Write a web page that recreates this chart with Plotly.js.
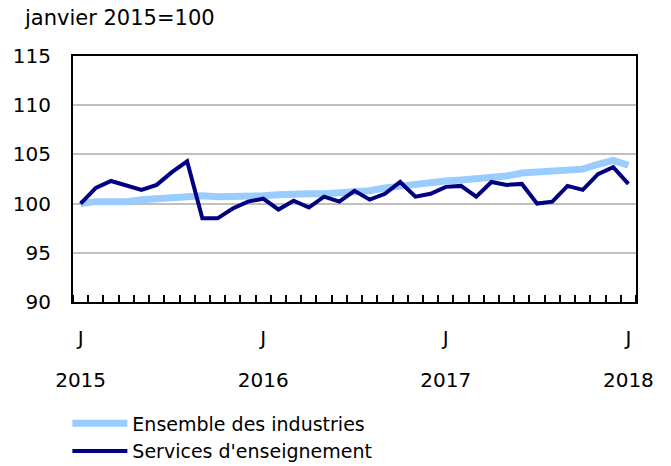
<!DOCTYPE html>
<html>
<head>
<meta charset="utf-8">
<script src="https://cdn.plot.ly/plotly-3.0.1.min.js"></script>
<style>html,body{margin:0;padding:0;background:#fff;}#chart{width:671px;height:466px;}</style>
</head>
<body>
<div id="chart"></div>
<script>
// Months Jan 2015 .. Jan 2018 (index 0..36)
const months = Array.from({length: 37}, (_, i) => i);
const tickPositions = [0, 12, 24, 36];
const monthLabels = ["J", "J", "J", "J"];
const yearLabels = ["2015", "2016", "2017", "2018"];
const seriesNames = ["Ensemble des industries", "Services d'enseignement"];

const ensembleIndustries = [
  100.0, 100.2, 100.2, 100.2, 100.4, 100.5, 100.6, 100.7, 100.8, 100.7, 100.7, 100.8,
  100.8, 100.9, 101.0, 101.0, 101.0, 101.1, 101.2, 101.3, 101.6, 101.8, 101.9, 102.1,
  102.3, 102.4, 102.5, 102.6, 102.8, 103.1, 103.2, 103.3, 103.4, 103.5, 104.0, 104.4,
  103.9
];
const servicesEnseignement = [
  100.0, 101.6, 102.3, 101.9, 101.4, 101.9, 103.2, 104.3, 98.5, 98.5, 99.5, 100.2,
  100.5, 99.4, 100.3, 99.6, 100.7, 100.2, 101.3, 100.4, 101.0, 102.2, 100.7, 101.0,
  101.7, 101.8, 100.7, 102.2, 101.9, 102.0, 100.0, 100.2, 101.8, 101.4, 103.0, 103.7,
  102.0
];

const font = {family: "Verdana, DejaVu Sans, sans-serif", size: 20, color: "#000"};
const textFont = {family: "Verdana, DejaVu Sans, sans-serif", size: 21, color: "#000"};
const legendFont = {family: "Verdana, DejaVu Sans, sans-serif", size: 19, color: "#000"};

const traces = [
  {x: months, y: ensembleIndustries, name: seriesNames[0], type: "scatter", mode: "lines",
   line: {color: "#99ccff", width: 7}},
  {x: months, y: servicesEnseignement, name: seriesNames[1], type: "scatter", mode: "lines",
   line: {color: "#000080", width: 4}},
  {x: [0], y: [null], xaxis: "x2", yaxis: "y", showlegend: false, hoverinfo: "skip",
   type: "scatter", mode: "lines"}
];

const layout = {
  width: 671, height: 466,
  margin: {l: 73, r: 35, t: 56, b: 164, autoexpand: false},
  paper_bgcolor: "#fff", plot_bgcolor: "#fff",
  font: font,
  showlegend: true,
  legend: {x: -0.01, xanchor: "left", yref: "container", y: 0.132, yanchor: "top", orientation: "v",
           font: legendFont, tracegroupgap: 0, itemwidth: 55, bgcolor: "rgba(0,0,0,0)"},
  xaxis: {
    range: [-0.5, 36.5], tickvals: tickPositions, ticktext: monthLabels,
    ticks: "", showgrid: false, zeroline: false,
    showline: true, linecolor: "#000", linewidth: 2, mirror: true,
    ticklabelstandoff: 17,
    minor: {tick0: -0.5, dtick: 1, ticks: "inside", ticklen: 7, tickwidth: 2, tickcolor: "#000", showgrid: false},
    tickfont: font, fixedrange: true
  },
  xaxis2: {
    range: [-0.5, 36.5], overlaying: "x", anchor: "y", side: "bottom",
    tickvals: tickPositions, ticktext: yearLabels, ticks: "",
    showgrid: false, zeroline: false, showline: false,
    ticklabelstandoff: 64, tickfont: font, fixedrange: true
  },
  yaxis: {
    range: [90, 115], tickvals: [90, 95, 100, 105, 110, 115], ticks: "",
    showgrid: true, gridcolor: "#c0c0c0", gridwidth: 2, zeroline: false,
    showline: true, linecolor: "#000", linewidth: 2, mirror: true,
    ticklabelstandoff: 16, tickfont: font, fixedrange: true,
    title: {text: ""}
  },
  annotations: [
    {text: "janvier 2015=100", xref: "paper", yref: "paper", x: -0.091, y: 1.154,
     xanchor: "left", yanchor: "middle", showarrow: false, font: textFont}
  ]
};

Plotly.newPlot("chart", traces, layout, {displayModeBar: false, staticPlot: true});
</script>
</body>
</html>
